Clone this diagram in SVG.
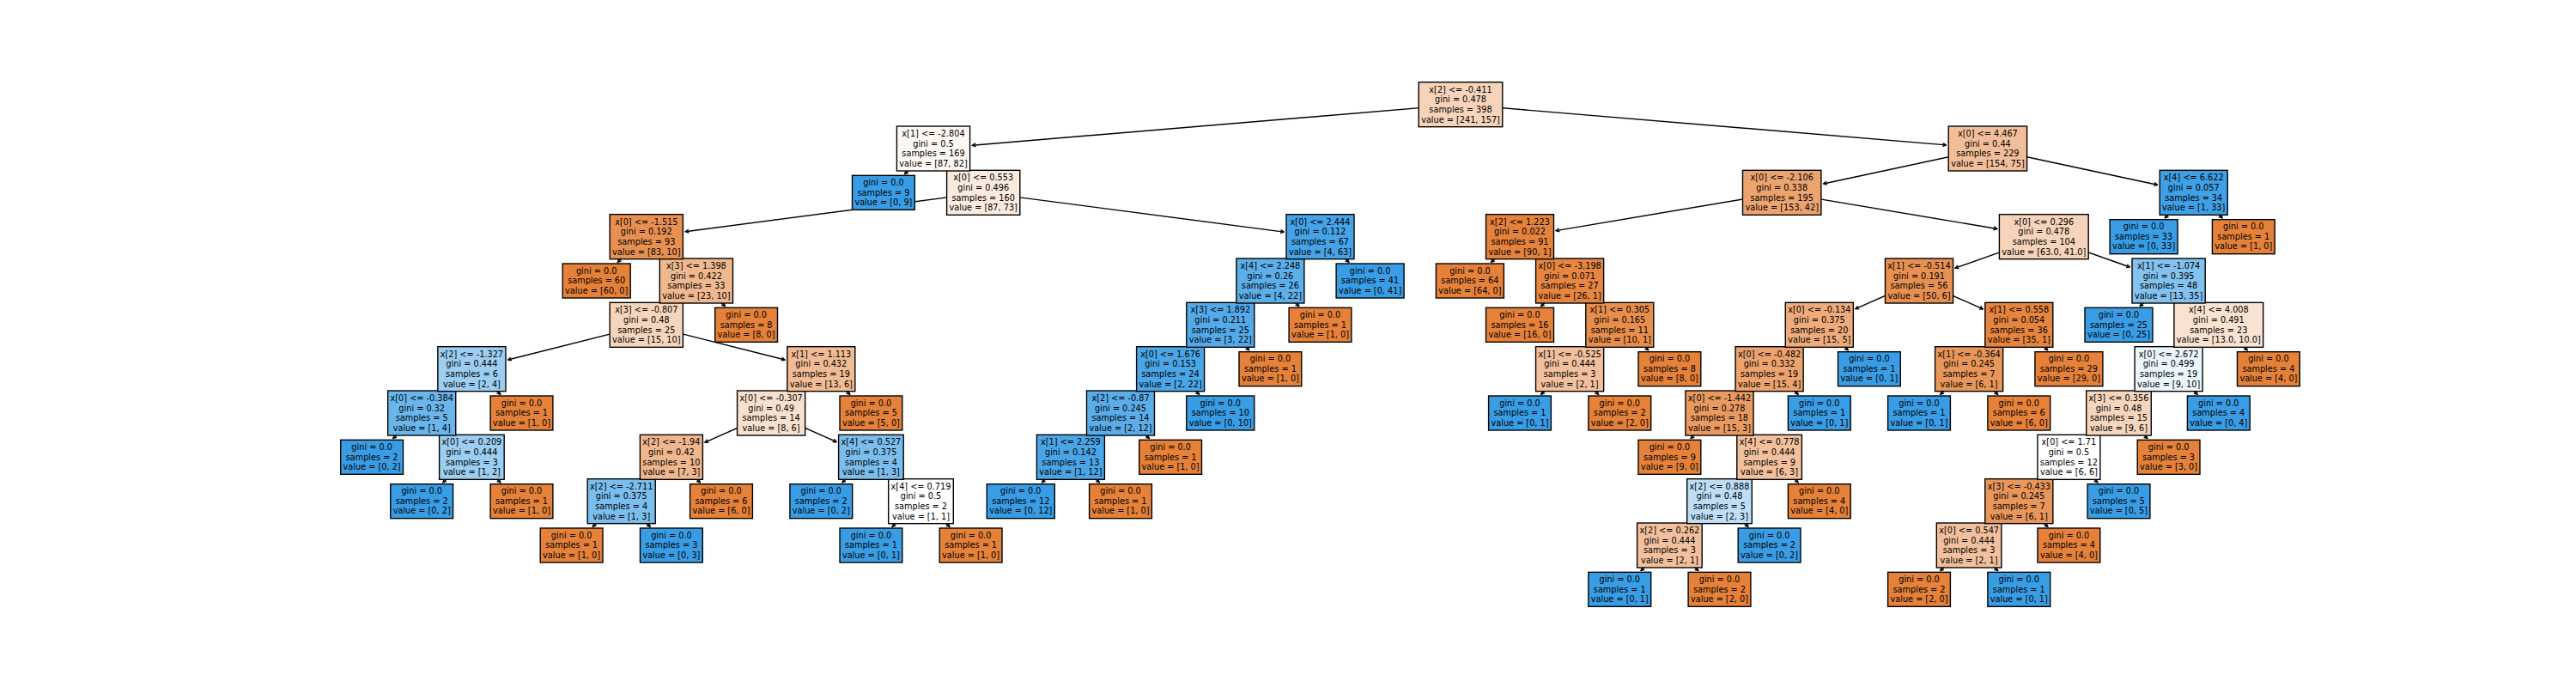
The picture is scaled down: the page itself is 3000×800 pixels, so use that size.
<svg xmlns="http://www.w3.org/2000/svg" width="3000" height="800" viewBox="0 0 3000 800">
<style>
.e{fill:none;stroke:#000;stroke-width:1.39;marker-start:url(#ah)}
.n rect{stroke:#000;stroke-width:1.39}
.n text{font-family:"DejaVu Sans",sans-serif;font-size:9.72px;text-anchor:middle;fill:#000}
.o{fill:#e58139}
.b{fill:#399de5}
</style>
<defs>
<marker id="ah" markerUnits="userSpaceOnUse" viewBox="-5 -3 6 6" markerWidth="6" markerHeight="6" refX="0" refY="0" orient="auto-start-reverse"><path d="M-3.9,-1.95 L0,0 L-3.9,1.95" fill="none" stroke="#000" stroke-width="1.39"/></marker>
</defs>
<rect width="3000" height="800" fill="#fff"/>
<g id="connectors">
<path class="e" d="M1132.4,169.2 L1701,121.67"/>
<path class="e" d="M2266.4,168.9 L1701,121.67"/>
<path class="e" d="M1053.6,202.5 L1087,173"/>
<path class="e" d="M1113.7,196.5 L1087,173"/>
<path class="e" d="M798.2,269.7 L1145.2,224.33"/>
<path class="e" d="M1495.2,270.1 L1145.2,224.33"/>
<path class="e" d="M719.4,305.2 L752.8,275.67"/>
<path class="e" d="M779.4,299.2 L752.8,275.67"/>
<path class="e" d="M784.3,350.5 L810.9,327"/>
<path class="e" d="M844.4,356.5 L810.9,327"/>
<path class="e" d="M591.6,419 L752.8,378.33"/>
<path class="e" d="M914.1,419 L752.8,378.33"/>
<path class="e" d="M522.7,453.2 L549.4,429.67"/>
<path class="e" d="M582.8,459.2 L549.4,429.67"/>
<path class="e" d="M457.8,510.5 L491.2,481"/>
<path class="e" d="M517.9,504.5 L491.2,481"/>
<path class="e" d="M515.9,561.8 L549.4,532.33"/>
<path class="e" d="M582.8,561.8 L549.4,532.33"/>
<path class="e" d="M929.6,453.2 L956.3,429.67"/>
<path class="e" d="M989.7,459.2 L956.3,429.67"/>
<path class="e" d="M821,515.1 L898.1,481"/>
<path class="e" d="M974.1,514.5 L898.1,481"/>
<path class="e" d="M755.2,555.8 L781.9,532.33"/>
<path class="e" d="M815.3,561.8 L781.9,532.33"/>
<path class="e" d="M690.3,613.2 L723.7,583.67"/>
<path class="e" d="M757.2,613.2 L723.7,583.67"/>
<path class="e" d="M981,561.8 L1014.4,532.33"/>
<path class="e" d="M1041,555.8 L1014.4,532.33"/>
<path class="e" d="M1039.1,613.2 L1072.5,583.67"/>
<path class="e" d="M1105.9,613.2 L1072.5,583.67"/>
<path class="e" d="M1510.9,299.2 L1537.5,275.67"/>
<path class="e" d="M1570.9,305.2 L1537.5,275.67"/>
<path class="e" d="M1452.8,350.5 L1479.4,327"/>
<path class="e" d="M1512.8,356.5 L1479.4,327"/>
<path class="e" d="M1394.6,401.8 L1421.3,378.33"/>
<path class="e" d="M1454.7,407.8 L1421.3,378.33"/>
<path class="e" d="M1336.5,453.2 L1363.1,429.67"/>
<path class="e" d="M1396.6,459.2 L1363.1,429.67"/>
<path class="e" d="M1278.4,504.5 L1305,481"/>
<path class="e" d="M1338.4,510.5 L1305,481"/>
<path class="e" d="M1213.5,561.8 L1246.9,532.33"/>
<path class="e" d="M1280.3,561.8 L1246.9,532.33"/>
<path class="e" d="M2123.6,214 L2314.9,173"/>
<path class="e" d="M2512.5,215.3 L2314.9,173"/>
<path class="e" d="M2521.3,253.8 L2554.7,224.33"/>
<path class="e" d="M2588.1,253.8 L2554.7,224.33"/>
<path class="e" d="M1812.2,268.6 L2075.2,224.33"/>
<path class="e" d="M2325.7,266.5 L2075.2,224.33"/>
<path class="e" d="M1736.6,305.2 L1770,275.67"/>
<path class="e" d="M1796.6,299.2 L1770,275.67"/>
<path class="e" d="M1794.7,356.5 L1828.1,327"/>
<path class="e" d="M1854.8,350.5 L1828.1,327"/>
<path class="e" d="M1859.6,401.8 L1886.3,378.33"/>
<path class="e" d="M1919.7,407.8 L1886.3,378.33"/>
<path class="e" d="M1794.7,459.2 L1828.1,429.67"/>
<path class="e" d="M1861.6,459.2 L1828.1,429.67"/>
<path class="e" d="M2277.2,312.1 L2380.3,275.67"/>
<path class="e" d="M2480.4,311 L2380.3,275.67"/>
<path class="e" d="M2160.9,359.7 L2235,327"/>
<path class="e" d="M2309.3,359.8 L2235,327"/>
<path class="e" d="M2092.1,401.8 L2118.8,378.33"/>
<path class="e" d="M2152.2,407.8 L2118.8,378.33"/>
<path class="e" d="M2034,453.2 L2060.6,429.67"/>
<path class="e" d="M2094.1,459.2 L2060.6,429.67"/>
<path class="e" d="M1969.1,510.5 L2002.5,481"/>
<path class="e" d="M2029.1,504.5 L2002.5,481"/>
<path class="e" d="M2034,555.8 L2060.6,532.33"/>
<path class="e" d="M2094.1,561.8 L2060.6,532.33"/>
<path class="e" d="M1975.9,607.2 L2002.5,583.67"/>
<path class="e" d="M2035.9,613.2 L2002.5,583.67"/>
<path class="e" d="M1911,664.5 L1944.4,635"/>
<path class="e" d="M1977.8,664.5 L1944.4,635"/>
<path class="e" d="M2324.6,401.8 L2351.3,378.33"/>
<path class="e" d="M2384.7,407.8 L2351.3,378.33"/>
<path class="e" d="M2259.7,459.2 L2293.1,429.67"/>
<path class="e" d="M2326.6,459.2 L2293.1,429.67"/>
<path class="e" d="M2492.2,356.5 L2525.6,327"/>
<path class="e" d="M2552.3,350.5 L2525.6,327"/>
<path class="e" d="M2557.1,401.8 L2583.8,378.33"/>
<path class="e" d="M2617.2,407.8 L2583.8,378.33"/>
<path class="e" d="M2499,453.2 L2525.6,429.67"/>
<path class="e" d="M2559.1,459.2 L2525.6,429.67"/>
<path class="e" d="M2440.9,504.5 L2467.5,481"/>
<path class="e" d="M2500.9,510.5 L2467.5,481"/>
<path class="e" d="M2382.8,555.8 L2409.4,532.33"/>
<path class="e" d="M2442.8,561.8 L2409.4,532.33"/>
<path class="e" d="M2324.6,607.2 L2351.3,583.67"/>
<path class="e" d="M2384.7,613.2 L2351.3,583.67"/>
<path class="e" d="M2259.7,664.5 L2293.1,635"/>
<path class="e" d="M2326.6,664.5 L2293.1,635"/>
</g>
<g id="nodes">
<!-- depth 11 -->
<g id="n-ahl" class="n" transform="translate(1886.3,686.33)"><rect class="b" x="-36.4" y="-20" width="72.8" height="40"/><text><tspan x="0" y="-8.5">gini = 0.0</tspan><tspan x="0" y="3.17">samples = 1</tspan><tspan x="0" y="14.84">value = [0, 1]</tspan></text></g>
<g id="n-ahr" class="n" transform="translate(2002.5,686.33)"><rect class="o" x="-36.4" y="-20" width="72.8" height="40"/><text><tspan x="0" y="-8.5">gini = 0.0</tspan><tspan x="0" y="3.17">samples = 2</tspan><tspan x="0" y="14.84">value = [2, 0]</tspan></text></g>
<g id="n-aql" class="n" transform="translate(2235,686.33)"><rect class="o" x="-36.4" y="-20" width="72.8" height="40"/><text><tspan x="0" y="-8.5">gini = 0.0</tspan><tspan x="0" y="3.17">samples = 2</tspan><tspan x="0" y="14.84">value = [2, 0]</tspan></text></g>
<g id="n-aqr" class="n" transform="translate(2351.3,686.33)"><rect class="b" x="-36.4" y="-20" width="72.8" height="40"/><text><tspan x="0" y="-8.5">gini = 0.0</tspan><tspan x="0" y="3.17">samples = 1</tspan><tspan x="0" y="14.84">value = [0, 1]</tspan></text></g>
<!-- depth 10 -->
<g id="n-ml" class="n" transform="translate(665.6,635)"><rect class="o" x="-36.4" y="-20" width="72.8" height="40"/><text><tspan x="0" y="-8.5">gini = 0.0</tspan><tspan x="0" y="3.17">samples = 1</tspan><tspan x="0" y="14.84">value = [1, 0]</tspan></text></g>
<g id="n-mr" class="n" transform="translate(781.9,635)"><rect class="b" x="-36.4" y="-20" width="72.8" height="40"/><text><tspan x="0" y="-8.5">gini = 0.0</tspan><tspan x="0" y="3.17">samples = 3</tspan><tspan x="0" y="14.84">value = [0, 3]</tspan></text></g>
<g id="n-ol" class="n" transform="translate(1014.4,635)"><rect class="b" x="-36.4" y="-20" width="72.8" height="40"/><text><tspan x="0" y="-8.5">gini = 0.0</tspan><tspan x="0" y="3.17">samples = 1</tspan><tspan x="0" y="14.84">value = [0, 1]</tspan></text></g>
<g id="n-or" class="n" transform="translate(1130.6,635)"><rect class="o" x="-36.4" y="-20" width="72.8" height="40"/><text><tspan x="0" y="-8.5">gini = 0.0</tspan><tspan x="0" y="3.17">samples = 1</tspan><tspan x="0" y="14.84">value = [1, 0]</tspan></text></g>
<g id="n-ah" class="n" transform="translate(1944.4,635)"><rect fill="#f2c09c" x="-37.8" y="-26" width="75.6" height="52"/><text><tspan x="0" y="-14.1">x[2] &lt;= 0.262</tspan><tspan x="0" y="-2.43">gini = 0.444</tspan><tspan x="0" y="9.24">samples = 3</tspan><tspan x="0" y="20.91">value = [2, 1]</tspan></text></g>
<g id="n-agr" class="n" transform="translate(2060.6,635)"><rect class="b" x="-36.4" y="-20" width="72.8" height="40"/><text><tspan x="0" y="-8.5">gini = 0.0</tspan><tspan x="0" y="3.17">samples = 2</tspan><tspan x="0" y="14.84">value = [0, 2]</tspan></text></g>
<g id="n-aq" class="n" transform="translate(2293.1,635)"><rect fill="#f2c09c" x="-37.8" y="-26" width="75.6" height="52"/><text><tspan x="0" y="-14.1">x[0] &lt;= 0.547</tspan><tspan x="0" y="-2.43">gini = 0.444</tspan><tspan x="0" y="9.24">samples = 3</tspan><tspan x="0" y="20.91">value = [2, 1]</tspan></text></g>
<g id="n-apr" class="n" transform="translate(2409.4,635)"><rect class="o" x="-36.4" y="-20" width="72.8" height="40"/><text><tspan x="0" y="-8.5">gini = 0.0</tspan><tspan x="0" y="3.17">samples = 4</tspan><tspan x="0" y="14.84">value = [4, 0]</tspan></text></g>
<!-- depth 9 -->
<g id="n-hl" class="n" transform="translate(491.2,583.67)"><rect class="b" x="-36.4" y="-20" width="72.8" height="40"/><text><tspan x="0" y="-8.5">gini = 0.0</tspan><tspan x="0" y="3.17">samples = 2</tspan><tspan x="0" y="14.84">value = [0, 2]</tspan></text></g>
<g id="n-hr" class="n" transform="translate(607.5,583.67)"><rect class="o" x="-36.4" y="-20" width="72.8" height="40"/><text><tspan x="0" y="-8.5">gini = 0.0</tspan><tspan x="0" y="3.17">samples = 1</tspan><tspan x="0" y="14.84">value = [1, 0]</tspan></text></g>
<g id="n-m" class="n" transform="translate(723.7,583.67)"><rect fill="#7bbeee" x="-39.55" y="-26" width="79.1" height="52"/><text><tspan x="0" y="-14.1">x[2] &lt;= -2.711</tspan><tspan x="0" y="-2.43">gini = 0.375</tspan><tspan x="0" y="9.24">samples = 4</tspan><tspan x="0" y="20.91">value = [1, 3]</tspan></text></g>
<g id="n-kr" class="n" transform="translate(840,583.67)"><rect class="o" x="-36.4" y="-20" width="72.8" height="40"/><text><tspan x="0" y="-8.5">gini = 0.0</tspan><tspan x="0" y="3.17">samples = 6</tspan><tspan x="0" y="14.84">value = [6, 0]</tspan></text></g>
<g id="n-nl" class="n" transform="translate(956.3,583.67)"><rect class="b" x="-36.4" y="-20" width="72.8" height="40"/><text><tspan x="0" y="-8.5">gini = 0.0</tspan><tspan x="0" y="3.17">samples = 2</tspan><tspan x="0" y="14.84">value = [0, 2]</tspan></text></g>
<g id="n-o" class="n" transform="translate(1072.5,583.67)"><rect fill="#ffffff" x="-37.8" y="-26" width="75.6" height="52"/><text><tspan x="0" y="-14.1">x[4] &lt;= 0.719</tspan><tspan x="0" y="-2.43">gini = 0.5</tspan><tspan x="0" y="9.24">samples = 2</tspan><tspan x="0" y="20.91">value = [1, 1]</tspan></text></g>
<g id="n-ul" class="n" transform="translate(1188.8,583.67)"><rect class="b" x="-39.5" y="-20" width="79" height="40"/><text><tspan x="0" y="-8.5">gini = 0.0</tspan><tspan x="0" y="3.17">samples = 12</tspan><tspan x="0" y="14.84">value = [0, 12]</tspan></text></g>
<g id="n-ur" class="n" transform="translate(1305,583.67)"><rect class="o" x="-36.4" y="-20" width="72.8" height="40"/><text><tspan x="0" y="-8.5">gini = 0.0</tspan><tspan x="0" y="3.17">samples = 1</tspan><tspan x="0" y="14.84">value = [1, 0]</tspan></text></g>
<g id="n-ag" class="n" transform="translate(2002.5,583.67)"><rect fill="#bddef6" x="-37.8" y="-26" width="75.6" height="52"/><text><tspan x="0" y="-14.1">x[2] &lt;= 0.888</tspan><tspan x="0" y="-2.43">gini = 0.48</tspan><tspan x="0" y="9.24">samples = 5</tspan><tspan x="0" y="20.91">value = [2, 3]</tspan></text></g>
<g id="n-afr" class="n" transform="translate(2118.8,583.67)"><rect class="o" x="-36.4" y="-20" width="72.8" height="40"/><text><tspan x="0" y="-8.5">gini = 0.0</tspan><tspan x="0" y="3.17">samples = 4</tspan><tspan x="0" y="14.84">value = [4, 0]</tspan></text></g>
<g id="n-ap" class="n" transform="translate(2351.3,583.67)"><rect fill="#e9965a" x="-39.55" y="-26" width="79.1" height="52"/><text><tspan x="0" y="-14.1">x[3] &lt;= -0.433</tspan><tspan x="0" y="-2.43">gini = 0.245</tspan><tspan x="0" y="9.24">samples = 7</tspan><tspan x="0" y="20.91">value = [6, 1]</tspan></text></g>
<g id="n-aor" class="n" transform="translate(2467.5,583.67)"><rect class="b" x="-36.4" y="-20" width="72.8" height="40"/><text><tspan x="0" y="-8.5">gini = 0.0</tspan><tspan x="0" y="3.17">samples = 5</tspan><tspan x="0" y="14.84">value = [0, 5]</tspan></text></g>
<!-- depth 8 -->
<g id="n-gl" class="n" transform="translate(433.1,532.33)"><rect class="b" x="-36.4" y="-20" width="72.8" height="40"/><text><tspan x="0" y="-8.5">gini = 0.0</tspan><tspan x="0" y="3.17">samples = 2</tspan><tspan x="0" y="14.84">value = [0, 2]</tspan></text></g>
<g id="n-h" class="n" transform="translate(549.4,532.33)"><rect fill="#9ccef2" x="-37.8" y="-26" width="75.6" height="52"/><text><tspan x="0" y="-14.1">x[0] &lt;= 0.209</tspan><tspan x="0" y="-2.43">gini = 0.444</tspan><tspan x="0" y="9.24">samples = 3</tspan><tspan x="0" y="20.91">value = [1, 2]</tspan></text></g>
<g id="n-k" class="n" transform="translate(781.9,532.33)"><rect fill="#f0b78e" x="-36.5" y="-26" width="73" height="52"/><text><tspan x="0" y="-14.1">x[2] &lt;= -1.94</tspan><tspan x="0" y="-2.43">gini = 0.42</tspan><tspan x="0" y="9.24">samples = 10</tspan><tspan x="0" y="20.91">value = [7, 3]</tspan></text></g>
<g id="n-n" class="n" transform="translate(1014.4,532.33)"><rect fill="#7bbeee" x="-37.8" y="-26" width="75.6" height="52"/><text><tspan x="0" y="-14.1">x[4] &lt;= 0.527</tspan><tspan x="0" y="-2.43">gini = 0.375</tspan><tspan x="0" y="9.24">samples = 4</tspan><tspan x="0" y="20.91">value = [1, 3]</tspan></text></g>
<g id="n-u" class="n" transform="translate(1246.9,532.33)"><rect fill="#4aa5e7" x="-39.5" y="-26" width="79" height="52"/><text><tspan x="0" y="-14.1">x[1] &lt;= 2.259</tspan><tspan x="0" y="-2.43">gini = 0.142</tspan><tspan x="0" y="9.24">samples = 13</tspan><tspan x="0" y="20.91">value = [1, 12]</tspan></text></g>
<g id="n-tr" class="n" transform="translate(1363.1,532.33)"><rect class="o" x="-36.4" y="-20" width="72.8" height="40"/><text><tspan x="0" y="-8.5">gini = 0.0</tspan><tspan x="0" y="3.17">samples = 1</tspan><tspan x="0" y="14.84">value = [1, 0]</tspan></text></g>
<g id="n-ael" class="n" transform="translate(1944.4,532.33)"><rect class="o" x="-36.4" y="-20" width="72.8" height="40"/><text><tspan x="0" y="-8.5">gini = 0.0</tspan><tspan x="0" y="3.17">samples = 9</tspan><tspan x="0" y="14.84">value = [9, 0]</tspan></text></g>
<g id="n-af" class="n" transform="translate(2060.6,532.33)"><rect fill="#f2c09c" x="-37.8" y="-26" width="75.6" height="52"/><text><tspan x="0" y="-14.1">x[4] &lt;= 0.778</tspan><tspan x="0" y="-2.43">gini = 0.444</tspan><tspan x="0" y="9.24">samples = 9</tspan><tspan x="0" y="20.91">value = [6, 3]</tspan></text></g>
<g id="n-ao" class="n" transform="translate(2409.4,532.33)"><rect fill="#ffffff" x="-36.45" y="-26" width="72.9" height="52"/><text><tspan x="0" y="-14.1">x[0] &lt;= 1.71</tspan><tspan x="0" y="-2.43">gini = 0.5</tspan><tspan x="0" y="9.24">samples = 12</tspan><tspan x="0" y="20.91">value = [6, 6]</tspan></text></g>
<g id="n-anr" class="n" transform="translate(2525.6,532.33)"><rect class="o" x="-36.4" y="-20" width="72.8" height="40"/><text><tspan x="0" y="-8.5">gini = 0.0</tspan><tspan x="0" y="3.17">samples = 3</tspan><tspan x="0" y="14.84">value = [3, 0]</tspan></text></g>
<!-- depth 7 -->
<g id="n-g" class="n" transform="translate(491.2,481)"><rect fill="#6ab6ec" x="-39.55" y="-26" width="79.1" height="52"/><text><tspan x="0" y="-14.1">x[0] &lt;= -0.384</tspan><tspan x="0" y="-2.43">gini = 0.32</tspan><tspan x="0" y="9.24">samples = 5</tspan><tspan x="0" y="20.91">value = [1, 4]</tspan></text></g>
<g id="n-fr" class="n" transform="translate(607.5,481)"><rect class="o" x="-36.4" y="-20" width="72.8" height="40"/><text><tspan x="0" y="-8.5">gini = 0.0</tspan><tspan x="0" y="3.17">samples = 1</tspan><tspan x="0" y="14.84">value = [1, 0]</tspan></text></g>
<g id="n-j" class="n" transform="translate(898.1,481)"><rect fill="#f8e0ce" x="-39.55" y="-26" width="79.1" height="52"/><text><tspan x="0" y="-14.1">x[0] &lt;= -0.307</tspan><tspan x="0" y="-2.43">gini = 0.49</tspan><tspan x="0" y="9.24">samples = 14</tspan><tspan x="0" y="20.91">value = [8, 6]</tspan></text></g>
<g id="n-ir" class="n" transform="translate(1014.4,481)"><rect class="o" x="-36.4" y="-20" width="72.8" height="40"/><text><tspan x="0" y="-8.5">gini = 0.0</tspan><tspan x="0" y="3.17">samples = 5</tspan><tspan x="0" y="14.84">value = [5, 0]</tspan></text></g>
<g id="n-t" class="n" transform="translate(1305,481)"><rect fill="#5aade9" x="-39.5" y="-26" width="79" height="52"/><text><tspan x="0" y="-14.1">x[2] &lt;= -0.87</tspan><tspan x="0" y="-2.43">gini = 0.245</tspan><tspan x="0" y="9.24">samples = 14</tspan><tspan x="0" y="20.91">value = [2, 12]</tspan></text></g>
<g id="n-sr" class="n" transform="translate(1421.3,481)"><rect class="b" x="-39.5" y="-20" width="79" height="40"/><text><tspan x="0" y="-8.5">gini = 0.0</tspan><tspan x="0" y="3.17">samples = 10</tspan><tspan x="0" y="14.84">value = [0, 10]</tspan></text></g>
<g id="n-z1l" class="n" transform="translate(1770,481)"><rect class="b" x="-36.4" y="-20" width="72.8" height="40"/><text><tspan x="0" y="-8.5">gini = 0.0</tspan><tspan x="0" y="3.17">samples = 1</tspan><tspan x="0" y="14.84">value = [0, 1]</tspan></text></g>
<g id="n-z1r" class="n" transform="translate(1886.3,481)"><rect class="o" x="-36.4" y="-20" width="72.8" height="40"/><text><tspan x="0" y="-8.5">gini = 0.0</tspan><tspan x="0" y="3.17">samples = 2</tspan><tspan x="0" y="14.84">value = [2, 0]</tspan></text></g>
<g id="n-ae" class="n" transform="translate(2002.5,481)"><rect fill="#ea9a61" x="-39.55" y="-26" width="79.1" height="52"/><text><tspan x="0" y="-14.1">x[0] &lt;= -1.442</tspan><tspan x="0" y="-2.43">gini = 0.278</tspan><tspan x="0" y="9.24">samples = 18</tspan><tspan x="0" y="20.91">value = [15, 3]</tspan></text></g>
<g id="n-adr" class="n" transform="translate(2118.8,481)"><rect class="b" x="-36.4" y="-20" width="72.8" height="40"/><text><tspan x="0" y="-8.5">gini = 0.0</tspan><tspan x="0" y="3.17">samples = 1</tspan><tspan x="0" y="14.84">value = [0, 1]</tspan></text></g>
<g id="n-ajl" class="n" transform="translate(2235,481)"><rect class="b" x="-36.4" y="-20" width="72.8" height="40"/><text><tspan x="0" y="-8.5">gini = 0.0</tspan><tspan x="0" y="3.17">samples = 1</tspan><tspan x="0" y="14.84">value = [0, 1]</tspan></text></g>
<g id="n-ajr" class="n" transform="translate(2351.3,481)"><rect class="o" x="-36.4" y="-20" width="72.8" height="40"/><text><tspan x="0" y="-8.5">gini = 0.0</tspan><tspan x="0" y="3.17">samples = 6</tspan><tspan x="0" y="14.84">value = [6, 0]</tspan></text></g>
<g id="n-an" class="n" transform="translate(2467.5,481)"><rect fill="#f6d5bd" x="-37.8" y="-26" width="75.6" height="52"/><text><tspan x="0" y="-14.1">x[3] &lt;= 0.356</tspan><tspan x="0" y="-2.43">gini = 0.48</tspan><tspan x="0" y="9.24">samples = 15</tspan><tspan x="0" y="20.91">value = [9, 6]</tspan></text></g>
<g id="n-amr" class="n" transform="translate(2583.8,481)"><rect class="b" x="-36.4" y="-20" width="72.8" height="40"/><text><tspan x="0" y="-8.5">gini = 0.0</tspan><tspan x="0" y="3.17">samples = 4</tspan><tspan x="0" y="14.84">value = [0, 4]</tspan></text></g>
<!-- depth 6 -->
<g id="n-f" class="n" transform="translate(549.4,429.67)"><rect fill="#9ccef2" x="-39.55" y="-26" width="79.1" height="52"/><text><tspan x="0" y="-14.1">x[2] &lt;= -1.327</tspan><tspan x="0" y="-2.43">gini = 0.444</tspan><tspan x="0" y="9.24">samples = 6</tspan><tspan x="0" y="20.91">value = [2, 4]</tspan></text></g>
<g id="n-i" class="n" transform="translate(956.3,429.67)"><rect fill="#f1bb94" x="-39.5" y="-26" width="79" height="52"/><text><tspan x="0" y="-14.1">x[1] &lt;= 1.113</tspan><tspan x="0" y="-2.43">gini = 0.432</tspan><tspan x="0" y="9.24">samples = 19</tspan><tspan x="0" y="20.91">value = [13, 6]</tspan></text></g>
<g id="n-s" class="n" transform="translate(1363.1,429.67)"><rect fill="#4ba6e7" x="-39.5" y="-26" width="79" height="52"/><text><tspan x="0" y="-14.1">x[0] &lt;= 1.676</tspan><tspan x="0" y="-2.43">gini = 0.153</tspan><tspan x="0" y="9.24">samples = 24</tspan><tspan x="0" y="20.91">value = [2, 22]</tspan></text></g>
<g id="n-rr" class="n" transform="translate(1479.4,429.67)"><rect class="o" x="-36.4" y="-20" width="72.8" height="40"/><text><tspan x="0" y="-8.5">gini = 0.0</tspan><tspan x="0" y="3.17">samples = 1</tspan><tspan x="0" y="14.84">value = [1, 0]</tspan></text></g>
<g id="n-z1" class="n" transform="translate(1828.1,429.67)"><rect fill="#f2c09c" x="-39.55" y="-26" width="79.1" height="52"/><text><tspan x="0" y="-14.1">x[1] &lt;= -0.525</tspan><tspan x="0" y="-2.43">gini = 0.444</tspan><tspan x="0" y="9.24">samples = 3</tspan><tspan x="0" y="20.91">value = [2, 1]</tspan></text></g>
<g id="n-zr" class="n" transform="translate(1944.4,429.67)"><rect class="o" x="-36.4" y="-20" width="72.8" height="40"/><text><tspan x="0" y="-8.5">gini = 0.0</tspan><tspan x="0" y="3.17">samples = 8</tspan><tspan x="0" y="14.84">value = [8, 0]</tspan></text></g>
<g id="n-ad" class="n" transform="translate(2060.6,429.67)"><rect fill="#eca36e" x="-39.55" y="-26" width="79.1" height="52"/><text><tspan x="0" y="-14.1">x[0] &lt;= -0.482</tspan><tspan x="0" y="-2.43">gini = 0.332</tspan><tspan x="0" y="9.24">samples = 19</tspan><tspan x="0" y="20.91">value = [15, 4]</tspan></text></g>
<g id="n-acr" class="n" transform="translate(2176.9,429.67)"><rect class="b" x="-36.4" y="-20" width="72.8" height="40"/><text><tspan x="0" y="-8.5">gini = 0.0</tspan><tspan x="0" y="3.17">samples = 1</tspan><tspan x="0" y="14.84">value = [0, 1]</tspan></text></g>
<g id="n-aj" class="n" transform="translate(2293.1,429.67)"><rect fill="#e9965a" x="-39.55" y="-26" width="79.1" height="52"/><text><tspan x="0" y="-14.1">x[1] &lt;= -0.364</tspan><tspan x="0" y="-2.43">gini = 0.245</tspan><tspan x="0" y="9.24">samples = 7</tspan><tspan x="0" y="20.91">value = [6, 1]</tspan></text></g>
<g id="n-air" class="n" transform="translate(2409.4,429.67)"><rect class="o" x="-39.5" y="-20" width="79" height="40"/><text><tspan x="0" y="-8.5">gini = 0.0</tspan><tspan x="0" y="3.17">samples = 29</tspan><tspan x="0" y="14.84">value = [29, 0]</tspan></text></g>
<g id="n-am" class="n" transform="translate(2525.6,429.67)"><rect fill="#ebf5fc" x="-39.5" y="-26" width="79" height="52"/><text><tspan x="0" y="-14.1">x[0] &lt;= 2.672</tspan><tspan x="0" y="-2.43">gini = 0.499</tspan><tspan x="0" y="9.24">samples = 19</tspan><tspan x="0" y="20.91">value = [9, 10]</tspan></text></g>
<g id="n-alr" class="n" transform="translate(2641.9,429.67)"><rect class="o" x="-36.4" y="-20" width="72.8" height="40"/><text><tspan x="0" y="-8.5">gini = 0.0</tspan><tspan x="0" y="3.17">samples = 4</tspan><tspan x="0" y="14.84">value = [4, 0]</tspan></text></g>
<!-- depth 5 -->
<g id="n-e" class="n" transform="translate(752.8,378.33)"><rect fill="#f6d5bd" x="-42.6" y="-26" width="85.2" height="52"/><text><tspan x="0" y="-14.1">x[3] &lt;= -0.807</tspan><tspan x="0" y="-2.43">gini = 0.48</tspan><tspan x="0" y="9.24">samples = 25</tspan><tspan x="0" y="20.91">value = [15, 10]</tspan></text></g>
<g id="n-dr" class="n" transform="translate(869.1,378.33)"><rect class="o" x="-36.4" y="-20" width="72.8" height="40"/><text><tspan x="0" y="-8.5">gini = 0.0</tspan><tspan x="0" y="3.17">samples = 8</tspan><tspan x="0" y="14.84">value = [8, 0]</tspan></text></g>
<g id="n-r" class="n" transform="translate(1421.3,378.33)"><rect fill="#54aae9" x="-39.5" y="-26" width="79" height="52"/><text><tspan x="0" y="-14.1">x[3] &lt;= 1.892</tspan><tspan x="0" y="-2.43">gini = 0.211</tspan><tspan x="0" y="9.24">samples = 25</tspan><tspan x="0" y="20.91">value = [3, 22]</tspan></text></g>
<g id="n-qr" class="n" transform="translate(1537.5,378.33)"><rect class="o" x="-36.4" y="-20" width="72.8" height="40"/><text><tspan x="0" y="-8.5">gini = 0.0</tspan><tspan x="0" y="3.17">samples = 1</tspan><tspan x="0" y="14.84">value = [1, 0]</tspan></text></g>
<g id="n-yl" class="n" transform="translate(1770,378.33)"><rect class="o" x="-39.5" y="-20" width="79" height="40"/><text><tspan x="0" y="-8.5">gini = 0.0</tspan><tspan x="0" y="3.17">samples = 16</tspan><tspan x="0" y="14.84">value = [16, 0]</tspan></text></g>
<g id="n-z" class="n" transform="translate(1886.3,378.33)"><rect fill="#e88e4d" x="-39.5" y="-26" width="79" height="52"/><text><tspan x="0" y="-14.1">x[1] &lt;= 0.305</tspan><tspan x="0" y="-2.43">gini = 0.165</tspan><tspan x="0" y="9.24">samples = 11</tspan><tspan x="0" y="20.91">value = [10, 1]</tspan></text></g>
<g id="n-ac" class="n" transform="translate(2118.8,378.33)"><rect fill="#eeab7b" x="-39.55" y="-26" width="79.1" height="52"/><text><tspan x="0" y="-14.1">x[0] &lt;= -0.134</tspan><tspan x="0" y="-2.43">gini = 0.375</tspan><tspan x="0" y="9.24">samples = 20</tspan><tspan x="0" y="20.91">value = [15, 5]</tspan></text></g>
<g id="n-ai" class="n" transform="translate(2351.3,378.33)"><rect fill="#e6853f" x="-39.5" y="-26" width="79" height="52"/><text><tspan x="0" y="-14.1">x[1] &lt;= 0.558</tspan><tspan x="0" y="-2.43">gini = 0.054</tspan><tspan x="0" y="9.24">samples = 36</tspan><tspan x="0" y="20.91">value = [35, 1]</tspan></text></g>
<g id="n-akl" class="n" transform="translate(2467.5,378.33)"><rect class="b" x="-39.5" y="-20" width="79" height="40"/><text><tspan x="0" y="-8.5">gini = 0.0</tspan><tspan x="0" y="3.17">samples = 25</tspan><tspan x="0" y="14.84">value = [0, 25]</tspan></text></g>
<g id="n-al" class="n" transform="translate(2583.8,378.33)"><rect fill="#f9e2d1" x="-51.9" y="-26" width="103.8" height="52"/><text><tspan x="0" y="-14.1">x[4] &lt;= 4.008</tspan><tspan x="0" y="-2.43">gini = 0.491</tspan><tspan x="0" y="9.24">samples = 23</tspan><tspan x="0" y="20.91">value = [13.0, 10.0]</tspan></text></g>
<!-- depth 4 -->
<g id="n-cl" class="n" transform="translate(694.7,327)"><rect class="o" x="-39.5" y="-20" width="79" height="40"/><text><tspan x="0" y="-8.5">gini = 0.0</tspan><tspan x="0" y="3.17">samples = 60</tspan><tspan x="0" y="14.84">value = [60, 0]</tspan></text></g>
<g id="n-d" class="n" transform="translate(810.9,327)"><rect fill="#f0b88f" x="-42.6" y="-26" width="85.2" height="52"/><text><tspan x="0" y="-14.1">x[3] &lt;= 1.398</tspan><tspan x="0" y="-2.43">gini = 0.422</tspan><tspan x="0" y="9.24">samples = 33</tspan><tspan x="0" y="20.91">value = [23, 10]</tspan></text></g>
<g id="n-q" class="n" transform="translate(1479.4,327)"><rect fill="#5dafea" x="-39.5" y="-26" width="79" height="52"/><text><tspan x="0" y="-14.1">x[4] &lt;= 2.248</tspan><tspan x="0" y="-2.43">gini = 0.26</tspan><tspan x="0" y="9.24">samples = 26</tspan><tspan x="0" y="20.91">value = [4, 22]</tspan></text></g>
<g id="n-pr" class="n" transform="translate(1595.6,327)"><rect class="b" x="-39.5" y="-20" width="79" height="40"/><text><tspan x="0" y="-8.5">gini = 0.0</tspan><tspan x="0" y="3.17">samples = 41</tspan><tspan x="0" y="14.84">value = [0, 41]</tspan></text></g>
<g id="n-xl" class="n" transform="translate(1711.9,327)"><rect class="o" x="-39.5" y="-20" width="79" height="40"/><text><tspan x="0" y="-8.5">gini = 0.0</tspan><tspan x="0" y="3.17">samples = 64</tspan><tspan x="0" y="14.84">value = [64, 0]</tspan></text></g>
<g id="n-y" class="n" transform="translate(1828.1,327)"><rect fill="#e68641" x="-39.55" y="-26" width="79.1" height="52"/><text><tspan x="0" y="-14.1">x[0] &lt;= -3.198</tspan><tspan x="0" y="-2.43">gini = 0.071</tspan><tspan x="0" y="9.24">samples = 27</tspan><tspan x="0" y="20.91">value = [26, 1]</tspan></text></g>
<g id="n-ab" class="n" transform="translate(2235,327)"><rect fill="#e89051" x="-39.55" y="-26" width="79.1" height="52"/><text><tspan x="0" y="-14.1">x[1] &lt;= -0.514</tspan><tspan x="0" y="-2.43">gini = 0.191</tspan><tspan x="0" y="9.24">samples = 56</tspan><tspan x="0" y="20.91">value = [50, 6]</tspan></text></g>
<g id="n-ak" class="n" transform="translate(2525.6,327)"><rect fill="#83c1ef" x="-42.6" y="-26" width="85.2" height="52"/><text><tspan x="0" y="-14.1">x[1] &lt;= -1.074</tspan><tspan x="0" y="-2.43">gini = 0.395</tspan><tspan x="0" y="9.24">samples = 48</tspan><tspan x="0" y="20.91">value = [13, 35]</tspan></text></g>
<!-- depth 3 -->
<g id="n-c" class="n" transform="translate(752.8,275.67)"><rect fill="#e89051" x="-42.6" y="-26" width="85.2" height="52"/><text><tspan x="0" y="-14.1">x[0] &lt;= -1.515</tspan><tspan x="0" y="-2.43">gini = 0.192</tspan><tspan x="0" y="9.24">samples = 93</tspan><tspan x="0" y="20.91">value = [83, 10]</tspan></text></g>
<g id="n-p" class="n" transform="translate(1537.5,275.67)"><rect fill="#46a3e7" x="-39.5" y="-26" width="79" height="52"/><text><tspan x="0" y="-14.1">x[0] &lt;= 2.444</tspan><tspan x="0" y="-2.43">gini = 0.112</tspan><tspan x="0" y="9.24">samples = 67</tspan><tspan x="0" y="20.91">value = [4, 63]</tspan></text></g>
<g id="n-x" class="n" transform="translate(1770,275.67)"><rect fill="#e5823b" x="-39.5" y="-26" width="79" height="52"/><text><tspan x="0" y="-14.1">x[2] &lt;= 1.223</tspan><tspan x="0" y="-2.43">gini = 0.022</tspan><tspan x="0" y="9.24">samples = 91</tspan><tspan x="0" y="20.91">value = [90, 1]</tspan></text></g>
<g id="n-aa" class="n" transform="translate(2380.3,275.67)"><rect fill="#f6d3ba" x="-51.9" y="-26" width="103.8" height="52"/><text><tspan x="0" y="-14.1">x[0] &lt;= 0.296</tspan><tspan x="0" y="-2.43">gini = 0.478</tspan><tspan x="0" y="9.24">samples = 104</tspan><tspan x="0" y="20.91">value = [63.0, 41.0]</tspan></text></g>
<g id="n-arl" class="n" transform="translate(2496.6,275.67)"><rect class="b" x="-39.5" y="-20" width="79" height="40"/><text><tspan x="0" y="-8.5">gini = 0.0</tspan><tspan x="0" y="3.17">samples = 33</tspan><tspan x="0" y="14.84">value = [0, 33]</tspan></text></g>
<g id="n-arr" class="n" transform="translate(2612.8,275.67)"><rect class="o" x="-36.4" y="-20" width="72.8" height="40"/><text><tspan x="0" y="-8.5">gini = 0.0</tspan><tspan x="0" y="3.17">samples = 1</tspan><tspan x="0" y="14.84">value = [1, 0]</tspan></text></g>
<!-- depth 2 -->
<g id="n-al0" class="n" transform="translate(1028.9,224.33)"><rect class="b" x="-36.4" y="-20" width="72.8" height="40"/><text><tspan x="0" y="-8.5">gini = 0.0</tspan><tspan x="0" y="3.17">samples = 9</tspan><tspan x="0" y="14.84">value = [0, 9]</tspan></text></g>
<g id="n-b" class="n" transform="translate(1145.2,224.33)"><rect fill="#fbebdf" x="-42.6" y="-26" width="85.2" height="52"/><text><tspan x="0" y="-14.1">x[0] &lt;= 0.553</tspan><tspan x="0" y="-2.43">gini = 0.496</tspan><tspan x="0" y="9.24">samples = 160</tspan><tspan x="0" y="20.91">value = [87, 73]</tspan></text></g>
<g id="n-w" class="n" transform="translate(2075.2,224.33)"><rect fill="#eca46f" x="-45.7" y="-26" width="91.4" height="52"/><text><tspan x="0" y="-14.1">x[0] &lt;= -2.106</tspan><tspan x="0" y="-2.43">gini = 0.338</tspan><tspan x="0" y="9.24">samples = 195</tspan><tspan x="0" y="20.91">value = [153, 42]</tspan></text></g>
<g id="n-ar" class="n" transform="translate(2554.7,224.33)"><rect fill="#3fa0e6" x="-39.5" y="-26" width="79" height="52"/><text><tspan x="0" y="-14.1">x[4] &lt;= 6.622</tspan><tspan x="0" y="-2.43">gini = 0.057</tspan><tspan x="0" y="9.24">samples = 34</tspan><tspan x="0" y="20.91">value = [1, 33]</tspan></text></g>
<!-- depth 1 -->
<g id="n-a" class="n" transform="translate(1087,173)"><rect fill="#fef8f4" x="-42.6" y="-26" width="85.2" height="52"/><text><tspan x="0" y="-14.1">x[1] &lt;= -2.804</tspan><tspan x="0" y="-2.43">gini = 0.5</tspan><tspan x="0" y="9.24">samples = 169</tspan><tspan x="0" y="20.91">value = [87, 82]</tspan></text></g>
<g id="n-v" class="n" transform="translate(2314.9,173)"><rect fill="#f2be99" x="-45.7" y="-26" width="91.4" height="52"/><text><tspan x="0" y="-14.1">x[0] &lt;= 4.467</tspan><tspan x="0" y="-2.43">gini = 0.44</tspan><tspan x="0" y="9.24">samples = 229</tspan><tspan x="0" y="20.91">value = [154, 75]</tspan></text></g>
<!-- depth 0 -->
<g id="n-root" class="n" transform="translate(1701,121.67)"><rect fill="#f6d3ba" x="-48.8" y="-26" width="97.6" height="52"/><text><tspan x="0" y="-14.1">x[2] &lt;= -0.411</tspan><tspan x="0" y="-2.43">gini = 0.478</tspan><tspan x="0" y="9.24">samples = 398</tspan><tspan x="0" y="20.91">value = [241, 157]</tspan></text></g>
</g>
</svg>
